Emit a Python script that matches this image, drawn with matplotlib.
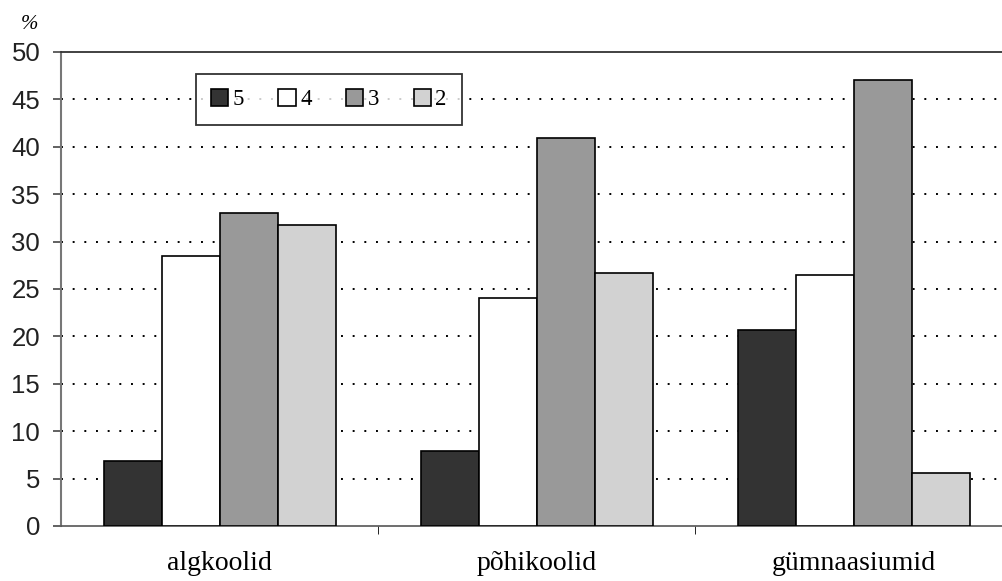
import matplotlib
matplotlib.use("Agg")
import matplotlib.pyplot as plt
import numpy as np

categories = ["algkoolid", "põhikoolid", "gümnaasiumid"]
series_names = ["5", "4", "3", "2"]
values_5 = [6.9, 7.9, 20.7]
values_4 = [28.5, 24.1, 26.5]
values_3 = [33.0, 40.9, 47.0]
values_2 = [31.8, 26.7, 5.6]
yticks = [0, 5, 10, 15, 20, 25, 30, 35, 40, 45, 50]

series = [values_5, values_4, values_3, values_2]
colors = ["#333333", "#ffffff", "#999999", "#d2d2d2"]

plt.rcParams['font.family'] = ['Liberation Serif', 'DejaVu Serif']

fig = plt.figure(figsize=(10.02, 5.81), dpi=100)
ax = fig.add_axes([0.0609, 0.0947, 0.9391, 0.8158])

x = np.arange(len(categories))
w = 0.183
handles = []
for i, (vals, c) in enumerate(zip(series, colors)):
    b = ax.bar(x + (i - 1.5) * w, vals, width=w, color=c, edgecolor="black",
               linewidth=1.2, zorder=3, label=series_names[i])
    handles.append(b)

ax.set_xlim(-0.5, 2.468)
ax.set_ylim(0, 50)
ax.set_yticks(yticks)
ax.set_yticklabels([str(t) for t in yticks], fontsize=18.5,
                   family=['Liberation Sans', 'DejaVu Sans'], color="#222222")
for t in yticks[1:-1]:
    ax.axhline(t, color="black", linestyle=(0, (1, 5)), linewidth=1.4, zorder=1)

ax.set_xticks(x)
ax.set_xticklabels(categories, fontsize=20)
ax.tick_params(axis="x", length=0, pad=18)
ax.set_xticks([0.5, 1.5], minor=True)
ax.tick_params(axis="x", which="minor", length=6, direction="out", color="black")
ax.tick_params(axis="y", length=6, direction="out", color="#555555", width=1.3, pad=9)

ax.spines["right"].set_visible(False)
ax.spines["top"].set_color("#333333")
ax.spines["top"].set_linewidth(1.3)
ax.spines["left"].set_color("#777777")
ax.spines["left"].set_linewidth(1.5)
ax.spines["bottom"].set_color("#555555")
ax.spines["bottom"].set_linewidth(1.2)

leg = ax.legend(handles=handles, labels=series_names, ncol=4, loc="upper left",
                bbox_to_anchor=(0.1435, 0.9536), borderaxespad=0.0, frameon=True,
                fancybox=False, edgecolor="black", fontsize=16.5, handlelength=0.75,
                handleheight=0.75, handletextpad=0.2, columnspacing=1.5, borderpad=0.65)
leg.get_frame().set_linewidth(1.3)
leg.set_zorder(5)

fig.text(0.021, 0.958, "%", fontsize=15, ha="left", va="center", style="italic")

fig.savefig("out.png", dpi=100)
